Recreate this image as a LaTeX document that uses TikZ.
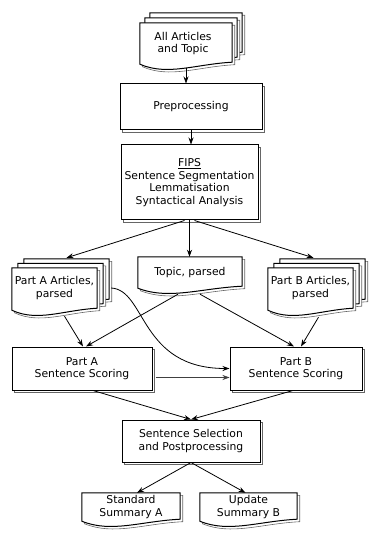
\documentclass[tikz,border=0pt]{standalone}
\usepackage{fontspec}
\setmainfont{DejaVu Sans}
\usetikzlibrary{arrows.meta,calc}

% one page of a "document" symbol: straight top, wavy bottom;
% #1 = node, #2/#3 = canvas offset of the page (pt)
\newcommand\docpage[3]{%
  \path[draw=black!60, fill=white, line width=0.6pt,
        transform canvas={xshift=#2pt+2.5pt, yshift=#3pt-2.5pt}]
    (#1.north west) -- (#1.north east) -- ($(#1.south east)+(0,-6)$)
    .. controls ($(#1.south east)!0.4!(#1.south west)+(0,-4)$)
            and ($(#1.south east)!0.7!(#1.south west)+(0,8)$)
    .. ($(#1.south west)+(0,-4)$) -- cycle;
  \path[draw=black, fill=white, line width=1pt,
        transform canvas={xshift=#2pt, yshift=#3pt}]
    (#1.north west) -- (#1.north east) -- ($(#1.south east)+(0,-6)$)
    .. controls ($(#1.south east)!0.4!(#1.south west)+(0,-4)$)
            and ($(#1.south east)!0.7!(#1.south west)+(0,8)$)
    .. ($(#1.south west)+(0,-4)$) -- cycle;
}

\tikzset{
  txt/.style={font=\fontsize{10.8}{12.6}\selectfont, align=center, inner sep=0pt},
  docnode/.style={txt, draw=none, minimum width=#1},
  box/.style={txt, draw, fill=white, line width=1pt,
    preaction={draw=black!60, fill=white, line width=0.6pt,
      transform canvas={xshift=2.5pt, yshift=-2.5pt}}},
  conn/.style={line width=0.8pt, -{Stealth[length=7pt,width=5pt]}},
  thinconn/.style={line width=0.5pt, draw=black!75, -{Stealth[length=7pt,width=5pt]}},
}

\begin{document}
\begin{tikzpicture}[x=1pt, y=-1pt]
\useasboundingbox (0,0) rectangle (370,534);

% placeholders for the document symbols (text only; outlines drawn below)
\node[docnode=92pt, minimum height=45pt] (all) at (186,45.5) {};
\node[docnode=85pt, minimum height=46pt] (pa) at (54.5,291) {};
\node[docnode=104pt, minimum height=35pt] (tp) at (190,274.5) {};
\node[docnode=85pt, minimum height=46pt] (pb) at (310.5,291) {};
\node[docnode=98pt, minimum height=32pt] (sa) at (131,509) {};
\node[docnode=97pt, minimum height=32pt] (ub) at (248.5,509) {};

% stacked pages, back to front
\docpage{all}{10}{10}\docpage{all}{5}{5}\docpage{all}{0}{0}
\docpage{pa}{12}{9}\docpage{pa}{6}{4.5}\docpage{pa}{0}{0}
\docpage{tp}{0}{0}
\docpage{pb}{12}{9}\docpage{pb}{6}{4.5}\docpage{pb}{0}{0}
\docpage{sa}{0}{0}
\docpage{ub}{0}{0}

% labels of the documents
\node[txt] at ($(all.center)+(-3,-2)$) {All Articles\\and Topic};
\node[txt] at ($(pa.center)+(0,-3)$) {Part A Articles,\\parsed};
\node[txt] at ($(tp.center)+(0,-2)$) {Topic, parsed};
\node[txt] at ($(pb.center)+(0,-3)$) {Part B Articles,\\parsed};
\node[txt] at ($(sa.center)+(0,-2)$) {Standard\\Summary A};
\node[txt] at ($(ub.center)+(0,-2)$) {Update\\Summary B};

% process boxes
\node[box, minimum width=142pt, minimum height=46pt] (prep) at (191,107) {Preprocessing};
\node[box, minimum width=137pt, minimum height=75pt] (fips) at (189.5,182.5)
  {\underline{FIPS}\\Sentence Segmentation\\Lemmatisation\\Syntactical Analysis};
\node[box, minimum width=140pt, minimum height=43pt] (pas) at (82,368.5) {Part A\\Sentence Scoring};
\node[box, minimum width=132pt, minimum height=43pt] (pbs) at (296,368.5) {Part B\\Sentence Scoring};
\node[box, minimum width=138pt, minimum height=42pt] (sel) at (191,441)
  {Sentence Selection\\and Postprocessing};

% attachment points on the stacked pages
\coordinate (pa-top) at ($(pa.north)+(12,-10)$);
\coordinate (pb-top) at ($(pb.north)+(3,-10)$);
\coordinate (pa-side) at ($(pa.east)+(14,-3)$);

% connectors
\draw[conn] (all.south) -- (all.south |- prep.north);
\draw[conn] (prep.south) -- (prep.south |- fips.north);
\draw[conn] ($(fips.south)+(-5,0)$) -- (pa-top);
\draw[conn] (fips.south) -- (fips.south |- tp.north);
\draw[conn] ($(fips.south)+(5,0)$) -- (pb-top);

\draw[conn] ($(pa.south)+(10,2)$) -- ($(pas.north)+(1,0)$);
\draw[conn] ($(tp.south)+(-12,2)$) -- ($(pas.north)+(4,0)$);
\draw[conn] ($(tp.south)+(10,2)$) -- ($(pbs.north)+(-2,0)$);
\draw[conn] ($(pb.south)+(8,3)$) -- ($(pbs.north)+(5,0)$);

\draw[conn] (pa-side) .. controls ($(pa-side)+(35,2)$) and ($(pbs.west)+(-90,0)$) .. (pbs.west);
\draw[thinconn] ($(pas.east)+(3,9)$) -- ($(pbs.west)+(0,9)$);

\draw[conn] ($(pas.south)+(11,0)$) -- (sel.north);
\draw[conn] ($(pbs.south)+(-3,0)$) -- (sel.north);

\draw[conn] (sel.south) -- ($(sa.north)+(6,0)$);
\draw[conn] (sel.south) -- ($(ub.north)+(-3,0)$);
\end{tikzpicture}
\end{document}
